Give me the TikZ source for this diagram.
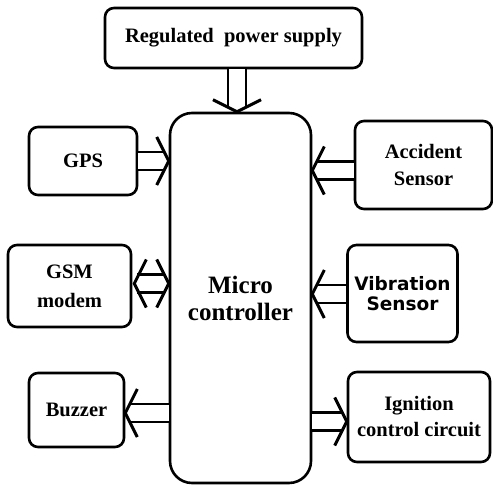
\documentclass[tikz,border=0pt]{standalone}
\usepackage{fontspec}
\setmainfont{Liberation Serif}
\newfontfamily\vfont{DejaVu Sans}
\begin{document}
\begin{tikzpicture}[x=1pt,y=-1pt]
\tikzset{
  blk/.style={draw, line width=2.6pt, rounded corners=9pt, align=center, inner sep=0pt,
    font=\bfseries\fontsize{20.5}{27}\selectfont},
  dline/.style={line width=2.6pt, double distance=15.5pt},
  headend/.style={shorten >=5pt},
  headstart/.style={shorten <=5pt},
  chev/.pic={\draw[line width=3pt, line join=miter] (-12,-24) .. controls (-5,-10) .. (0,0) .. controls (-5,10) .. (-12,24);}
}
\useasboundingbox (0,0) rectangle (493,485);
\node[blk, minimum width=257pt, minimum height=60pt] (ps) at (233.5,38) {Regulated\ \ power supply};
\node[blk, minimum width=141pt, minimum height=370pt, rounded corners=22pt,
  font=\bfseries\fontsize{25}{27}\selectfont] (mc) at (240.5,298) {Micro\\controller};
\node[blk, minimum width=108pt, minimum height=68pt] (gps) at (83,161) {GPS};
\node[blk, minimum width=137pt, minimum height=88pt] (acc) at (423.5,165) {Accident\\Sensor};
\node[blk, minimum width=123pt, minimum height=82pt, font=\bfseries\fontsize{20.5}{29}\selectfont] (gsm) at (69.5,286) {GSM\\modem};
\node[blk, minimum width=110pt, minimum height=97pt, font=\vfont\bfseries\fontsize{18.5}{20}\selectfont] (vib) at (402.5,293.5) {Vibration\\Sensor};
\node[blk, minimum width=95pt, minimum height=74pt] (buz) at (76.5,410) {Buzzer};
\node[blk, minimum width=142pt, minimum height=90pt, font=\bfseries\fontsize{20.5}{26}\selectfont] (ign) at (419,417) {Ignition\\control circuit};
\coordinate (xPS) at (237,0);
\coordinate (yGPS) at (0,161);
\coordinate (yACC) at (0,170.5);
\coordinate (yGSM) at (0,283.5);
\coordinate (yVIB) at (0,294);
\coordinate (yBUZ) at (0,413);
\coordinate (yIGN) at (0,421.5);
% power supply -> micro
\draw[dline, headend] (xPS |- ps.south) -- (xPS |- mc.north);
\pic[rotate=-90] at (xPS |- mc.north) {chev};
% GPS -> micro
\draw[dline, headend] (gps.east |- yGPS) -- (mc.west |- yGPS);
\pic at (mc.west |- yGPS) {chev};
% Accident -> micro
\draw[dline, headend] (acc.west |- yACC) -- (mc.east |- yACC);
\pic[rotate=180] at (mc.east |- yACC) {chev};
% GSM <-> micro
\draw[dline, headend, headstart] (gsm.east |- yGSM) -- (mc.west |- yGSM);
\pic at (mc.west |- yGSM) {chev};
\pic[rotate=180] at ([xshift=2pt]gsm.east |- yGSM) {chev};
% Vibration -> micro
\draw[dline, headend] (vib.west |- yVIB) -- (mc.east |- yVIB);
\pic[rotate=180] at (mc.east |- yVIB) {chev};
% micro -> Buzzer
\draw[dline, headend] (mc.west |- yBUZ) -- (buz.east |- yBUZ);
\pic[rotate=180] at (buz.east |- yBUZ) {chev};
% micro -> Ignition
\draw[dline, headend] (mc.east |- yIGN) -- (ign.west |- yIGN);
\pic at (ign.west |- yIGN) {chev};
\end{tikzpicture}
\end{document}
